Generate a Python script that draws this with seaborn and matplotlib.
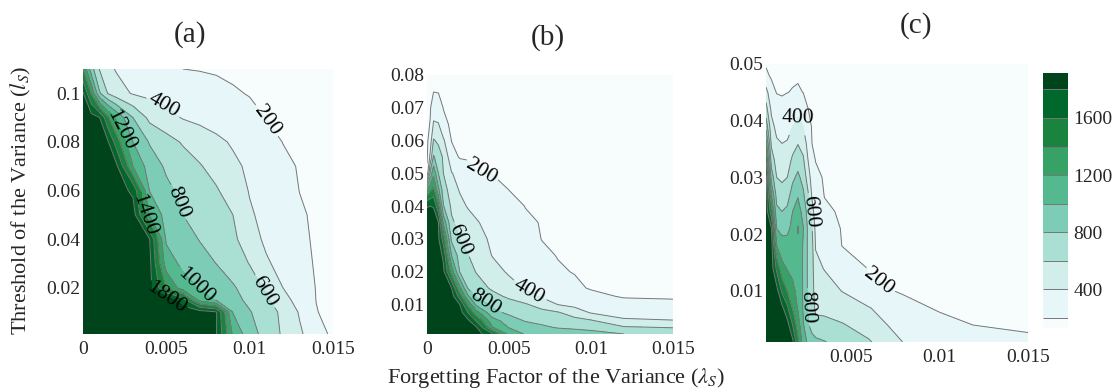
import numpy as np
import matplotlib
matplotlib.use("Agg")
import matplotlib.pyplot as plt
from matplotlib.colors import ListedColormap, BoundaryNorm
import seaborn as sns

# Contour levels (number of iterations) shared by the three panels
levels = [130, 200, 400, 600, 800, 1000, 1200, 1400, 1600, 1800, 1915]
line_levels = levels[1:-1]
cbar_ticks = [400, 800, 1200, 1600]

# ---------------- panel (a) ----------------
a_lambda = [0, 0.0005, 0.001, 0.0015, 0.002, 0.003, 0.004, 0.005, 0.006,
            0.007, 0.008, 0.009, 0.010, 0.011, 0.012, 0.013, 0.014, 0.015]
a_thresh = [0.001, 0.01, 0.015, 0.02, 0.03, 0.04, 0.05, 0.06, 0.07, 0.08,
            0.09, 0.10, 0.11]
a_value = [
    [1900, 1900, 1900, 1900, 1900, 1900, 1900, 1900, 1900, 1900, 1810, 1167, 883, 725, 574, 429, 289, 160],
    [1900, 1900, 1900, 1900, 1900, 1900, 1900, 1900, 1900, 1900, 1820, 989, 814, 691, 558, 382, 207, 150],
    [1900, 1900, 1900, 1900, 1900, 1900, 1900, 1900, 1700, 1133, 978, 867, 752, 634, 474, 322, 197, 150],
    [1900, 1900, 1900, 1900, 1900, 1900, 1860, 1390, 1104, 982, 903, 824, 706, 567, 400, 292, 194, 150],
    [1900, 1900, 1900, 1900, 1900, 1900, 1853, 1104, 950, 874, 798, 697, 593, 427, 332, 250, 186, 150],
    [1900, 1900, 1900, 1900, 1900, 1900, 1805, 971, 881, 792, 717, 641, 490, 360, 294, 229, 182, 150],
    [1900, 1900, 1900, 1900, 1900, 1900, 1183, 928, 800, 733, 667, 600, 424, 345, 281, 217, 179, 150],
    [1900, 1900, 1900, 1900, 1900, 1760, 994, 843, 752, 685, 619, 508, 389, 324, 259, 198, 174, 150],
    [1900, 1900, 1900, 1900, 1847, 1200, 908, 771, 693, 615, 530, 442, 365, 299, 232, 190, 170, 145],
    [1900, 1900, 1900, 1820, 1508, 1000, 783, 675, 580, 511, 444, 377, 314, 252, 197, 180, 162, 145],
    [1900, 1887, 1805, 1433, 1167, 800, 549, 462, 388, 350, 311, 272, 233, 198, 185, 171, 158, 145],
    [1830, 1380, 820, 588, 484, 383, 354, 326, 297, 269, 240, 212, 194, 183, 172, 161, 151, 140],
    [1400, 885, 588, 450, 385, 339, 293, 246, 200, 193, 186, 178, 171, 164, 157, 150, 142, 135],
]

# ---------------- panel (b) ----------------
b_lambda = [0, 0.0002, 0.0004, 0.0007, 0.001, 0.0015, 0.002, 0.0025, 0.003,
            0.004, 0.005, 0.006, 0.007, 0.008, 0.009, 0.010, 0.012, 0.015]
b_thresh = [0.001, 0.003, 0.005, 0.0075, 0.01, 0.0125, 0.015, 0.02, 0.025,
            0.03, 0.035, 0.04, 0.045, 0.05, 0.055, 0.06, 0.065, 0.07, 0.075, 0.08]
b_value = [
    [1900, 1900, 1900, 1900, 1900, 1900, 1900, 1900, 1900, 1620, 1123, 986, 959, 932, 904, 877, 800, 780],
    [1900, 1900, 1900, 1900, 1900, 1900, 1900, 1900, 1830, 1210, 991, 914, 838, 784, 762, 735, 626, 590],
    [1900, 1900, 1900, 1900, 1900, 1900, 1900, 1850, 1592, 1088, 900, 788, 745, 713, 677, 627, 430, 409],
    [1900, 1900, 1900, 1900, 1900, 1900, 1900, 1600, 1293, 861, 761, 714, 667, 619, 499, 388, 330, 317],
    [1900, 1900, 1900, 1900, 1900, 1900, 1800, 1350, 960, 754, 688, 622, 510, 395, 350, 318, 241, 228],
    [1900, 1900, 1900, 1900, 1900, 1900, 1510, 1033, 770, 665, 561, 458, 378, 329, 279, 229, 190, 185],
    [1900, 1900, 1900, 1900, 1900, 1800, 1247, 785, 703, 566, 473, 388, 332, 276, 219, 192, 183, 178],
    [1900, 1900, 1900, 1900, 1850, 1312, 790, 688, 591, 470, 376, 321, 265, 210, 196, 191, 180, 170],
    [1900, 1900, 1900, 1900, 1760, 987, 712, 606, 528, 391, 333, 276, 218, 196, 191, 186, 176, 160],
    [1900, 1900, 1900, 1830, 1510, 758, 598, 531, 464, 368, 306, 244, 198, 193, 188, 182, 171, 155],
    [1900, 1900, 1900, 1800, 1147, 629, 543, 478, 414, 343, 278, 214, 196, 190, 184, 178, 167, 150],
    [1790, 1800, 1790, 1450, 813, 565, 456, 385, 356, 296, 236, 198, 192, 186, 180, 174, 163, 145],
    [1200, 1350, 1450, 1040, 704, 488, 385, 353, 321, 256, 199, 193, 187, 181, 175, 169, 157, 140],
    [250, 850, 1150, 800, 600, 410, 338, 272, 206, 195, 190, 185, 180, 175, 170, 165, 155, 140],
    [170, 450, 820, 700, 575, 270, 185, 182, 179, 176, 173, 170, 167, 164, 161, 158, 150, 140],
    [160, 300, 620, 560, 430, 195, 190, 186, 182, 178, 174, 170, 166, 162, 158, 155, 148, 140],
    [155, 210, 420, 410, 240, 175, 172, 170, 168, 166, 163, 160, 158, 156, 154, 152, 147, 140],
    [150, 185, 320, 290, 195, 178, 175, 172, 170, 167, 164, 161, 158, 156, 154, 152, 147, 140],
    [148, 165, 195, 190, 175, 170, 168, 166, 164, 162, 160, 158, 156, 154, 152, 150, 146, 140],
    [145, 160, 170, 168, 165, 163, 161, 159, 157, 155, 153, 151, 149, 147, 145, 144, 142, 140],
]

# ---------------- panel (c) ----------------
c_lambda = [0.0002, 0.0005, 0.0008, 0.0011, 0.0014, 0.0017, 0.002, 0.0023, 0.0026,
            0.0028, 0.003, 0.0035, 0.0045, 0.006, 0.008, 0.010, 0.0125, 0.015]
c_thresh = [0.001, 0.004, 0.007, 0.010, 0.014, 0.018, 0.021, 0.024, 0.027,
            0.030, 0.033, 0.036, 0.039, 0.042, 0.045, 0.048, 0.050]
# one vertical profile (over c_thresh) per forgetting factor in c_lambda
c_profiles = [
    [1900, 1900, 1900, 1900, 1900, 1900, 1900, 1900, 1900, 1850, 1600, 1267, 920, 680, 479, 221, 190],
    [1900, 1900, 1900, 1900, 1900, 1900, 1810, 1500, 1200, 920, 714, 567, 467, 362, 246, 185, 175],
    [1900, 1900, 1900, 1880, 1550, 1200, 1000, 850, 720, 600, 514, 429, 343, 257, 195, 180, 172],
    [1900, 1900, 1850, 1560, 1267, 1075, 943, 800, 675, 567, 483, 400, 314, 229, 192, 178, 170],
    [1900, 1880, 1640, 1400, 1185, 1062, 960, 840, 720, 600, 508, 415, 339, 266, 198, 182, 172],
    [1850, 1600, 1378, 1244, 1154, 1092, 1046, 1000, 880, 760, 640, 520, 400, 303, 206, 185, 175],
    [1450, 1300, 1180, 1150, 1130, 1160, 1220, 1090, 978, 844, 717, 591, 464, 338, 213, 188, 178],
    [1100, 1020, 980, 980, 980, 980, 1010, 933, 833, 733, 633, 520, 400, 293, 198, 183, 175],
    [950, 810, 760, 750, 745, 745, 740, 700, 600, 480, 378, 311, 244, 197, 185, 178, 170],
    [880, 720, 690, 680, 675, 660, 610, 468, 367, 308, 249, 198, 190, 184, 178, 172, 168],
    [850, 655, 565, 510, 450, 387, 347, 307, 267, 227, 197, 190, 185, 180, 175, 170, 166],
    [810, 653, 551, 481, 391, 322, 270, 217, 196, 190, 186, 182, 179, 176, 172, 168, 165],
    [720, 615, 498, 395, 274, 197, 192, 188, 185, 182, 180, 177, 175, 172, 170, 167, 165],
    [620, 512, 413, 213, 195, 190, 188, 185, 183, 180, 178, 176, 174, 171, 169, 166, 164],
    [390, 300, 215, 195, 190, 187, 185, 183, 181, 179, 177, 175, 172, 170, 168, 165, 162],
    [330, 215, 195, 190, 186, 184, 182, 180, 178, 176, 174, 172, 170, 168, 165, 162, 160],
    [250, 195, 190, 186, 184, 182, 180, 178, 176, 174, 172, 170, 168, 166, 163, 160, 158],
    [210, 192, 188, 185, 183, 181, 179, 177, 175, 173, 171, 169, 166, 164, 161, 158, 155],
]

panels = [
    dict(x=a_lambda, y=a_thresh, z=np.asarray(a_value, float),
         rect=[0.0742, 0.148, 0.2236, 0.676], xlim=(0, 0.015), ylim=(0.001, 0.11),
         xticks=[0, 0.005, 0.01, 0.015], xlabels=["0", "0.005", "0.01", "0.015"],
         yticks=[0.02, 0.04, 0.06, 0.08, 0.1], ylabels=["0.02", "0.04", "0.06", "0.08", "0.1"],
         title="(a)", title_xy=(0.170, 0.911),
         spots={400: (0.00472, 0.0927), 200: (0.0110, 0.0886), 1200: (0.00212, 0.0845),
                800: (0.00562, 0.0549), 1400: (0.00352, 0.0494), 1000: (0.00672, 0.0205),
                1800: (0.00502, 0.0164), 600: (0.0109, 0.0185)}),
    dict(x=b_lambda, y=b_thresh, z=np.asarray(b_value, float),
         rect=[0.3819, 0.148, 0.2200, 0.6607], xlim=(0, 0.015), ylim=(0.001, 0.08),
         xticks=[0, 0.005, 0.01, 0.015], xlabels=["0", "0.005", "0.01", "0.015"],
         yticks=[0.01, 0.02, 0.03, 0.04, 0.05, 0.06, 0.07, 0.08],
         ylabels=["0.01", "0.02", "0.03", "0.04", "0.05", "0.06", "0.07", "0.08"],
         title="(b)", title_xy=(0.490, 0.903),
         spots={200: (0.00323, 0.0495), 600: (0.00201, 0.0297),
                400: (0.00618, 0.0134), 800: (0.00344, 0.0094)}),
    dict(x=c_lambda, y=c_thresh, z=np.asarray(c_profiles, float).T,
         rect=[0.6852, 0.1276, 0.2343, 0.7092], xlim=(0.0002, 0.015), ylim=(0.001, 0.05),
         xticks=[0.005, 0.01, 0.015], xlabels=["0.005", "0.01", "0.015"],
         yticks=[0.01, 0.02, 0.03, 0.04, 0.05], ylabels=["0.01", "0.02", "0.03", "0.04", "0.05"],
         title="(c)", title_xy=(0.819, 0.936),
         spots={400: (0.0020, 0.0406), 600: (0.00268, 0.0239),
                200: (0.00617, 0.0098), 800: (0.00221, 0.0071)}),
]

sns.set_theme(style="white")
plt.rcParams["font.family"] = ["Liberation Serif", "DejaVu Serif"]
plt.rcParams["mathtext.fontset"] = "stix"

bugn = sns.color_palette("BuGn", as_cmap=True)
band_cmap = ListedColormap([bugn(i / 9) for i in range(10)])
band_norm = BoundaryNorm(levels, band_cmap.N)
line_color = "#777777"
line_width = 0.7

fig = plt.figure(figsize=(11.18, 3.92), dpi=100)
fig.patch.set_facecolor("white")

last_fill = None
for p in panels:
    ax = fig.add_axes(p["rect"])
    X, Y = np.meshgrid(p["x"], p["y"])
    fill = ax.contourf(X, Y, p["z"], levels=levels, cmap=band_cmap, norm=band_norm)
    # one line set per level so each label attaches to its own iso-line
    for lev in line_levels:
        cs = ax.contour(X, Y, p["z"], levels=[lev], colors=line_color,
                        linewidths=line_width)
        if lev in p["spots"]:
            ax.clabel(cs, manual=[p["spots"][lev]], fmt="%d", fontsize=15.5,
                      colors="black", inline=True, inline_spacing=3)
    ax.set_xlim(*p["xlim"])
    ax.set_ylim(*p["ylim"])
    ax.set_xticks(p["xticks"], p["xlabels"])
    ax.set_yticks(p["yticks"], p["ylabels"])
    ax.tick_params(axis="both", which="both", length=0, labelsize=14)
    ax.tick_params(axis="x", pad=5)
    ax.tick_params(axis="y", pad=2)
    for s in ax.spines.values():
        s.set_visible(False)
    fig.text(*p["title_xy"], p["title"], ha="center", va="center", fontsize=21)
    last_fill = fill

cax = fig.add_axes([0.9329, 0.1633, 0.0224, 0.6505])
cb = fig.colorbar(last_fill, cax=cax, ticks=cbar_ticks, spacing="proportional")
cb.outline.set_visible(False)
cb.add_lines(line_levels, [line_color] * len(line_levels),
             [line_width] * len(line_levels))
cb.ax.minorticks_off()
cb.ax.tick_params(which="both", length=0, labelsize=14, pad=4)

fig.text(0.019, 0.49, "Threshold of the Variance ($l_S$)", rotation=90,
         ha="center", va="center", fontsize=16)
fig.text(0.497, 0.035, "Forgetting Factor of the Variance ($\\lambda_S$)",
         ha="center", va="center", fontsize=16)

fig.savefig("out.png", dpi=100, facecolor="white")
